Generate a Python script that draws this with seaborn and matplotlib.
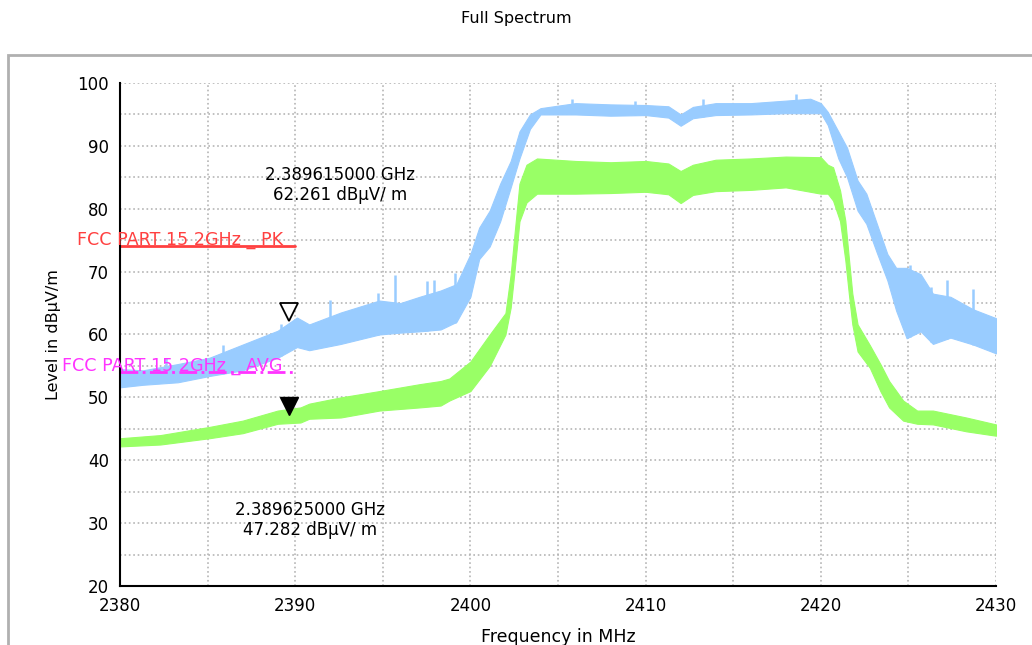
import numpy as np
import pandas as pd
import matplotlib
matplotlib.use("Agg")
import matplotlib.pyplot as plt
import matplotlib.transforms as mtransforms
from matplotlib.patches import Rectangle
import seaborn as sns

pk_freq = [2380, 2381.3, 2383.3, 2385.1, 2387, 2389, 2390.1, 2390.8, 2392.6, 2394.8,
           2396, 2397.1, 2398.3, 2399.2, 2400, 2400.5, 2401.1, 2401.7, 2402.3, 2402.8,
           2403.4, 2404, 2406, 2408, 2410, 2411.3, 2412, 2412.7, 2414, 2416,
           2418, 2419.4, 2420, 2420.4, 2421, 2421.5, 2422.1, 2422.6, 2423.2, 2423.8,
           2424.3, 2424.9, 2425.7, 2426.4, 2427.4, 2428.7, 2430]
pk_low = [51.6, 52.0, 52.4, 53.4, 54.3, 56.3, 58.0, 57.5, 58.5, 60.0,
          60.3, 60.5, 60.8, 62.0, 66.0, 72.0, 74.0, 78.0, 83.4, 88.0,
          92.7, 95.0, 95.0, 94.8, 94.9, 94.5, 93.2, 94.4, 94.9, 95.0,
          95.2, 95.2, 95.2, 93.3, 88.0, 85.0, 79.7, 77.6, 73.0, 68.6,
          63.8, 59.4, 60.5, 58.5, 59.5, 58.4, 57.0]
pk_high = [54.5, 54.3, 55.3, 56.3, 58.4, 60.6, 62.7, 61.6, 63.5, 65.4,
           65.0, 66.0, 67.0, 68.0, 72.8, 77.0, 79.7, 84.0, 87.6, 92.3,
           95.0, 96.0, 96.8, 96.6, 96.5, 96.3, 95.0, 96.2, 96.8, 96.8,
           97.2, 97.5, 96.8, 95.4, 92.3, 89.7, 84.5, 82.4, 77.6, 72.8,
           70.6, 70.6, 69.6, 66.5, 66.0, 64.0, 62.6]
# single spikes poking out of the peak band
pk_spike_freq = [2382.6, 2385.9, 2389.2, 2392.0, 2394.7, 2395.7, 2397.5, 2397.9, 2399.1,
                 2405.8, 2409.4, 2413.3, 2418.6, 2425.1, 2426.3, 2427.2, 2428.7]
pk_spike_top = [56.2, 58.4, 61.6, 65.5, 66.6, 69.5, 68.5, 68.7, 69.8,
                97.5, 97.2, 97.4, 98.2, 71.0, 67.5, 68.7, 67.3]

# Average trace (green)
avg_freq = [2380, 2382.3, 2385.1, 2387, 2389, 2390.3, 2390.8, 2392.6, 2394.8, 2397.1,
            2398.3, 2398.8, 2400, 2401.1, 2402, 2402.3, 2402.5, 2402.8, 2403.2, 2403.8,
            2406, 2408, 2410, 2411.3, 2412, 2412.7, 2414, 2416, 2418, 2420,
            2420.4, 2420.7, 2421.1, 2421.4, 2421.6, 2421.8, 2422.1, 2422.8, 2423.4, 2423.9,
            2424.7, 2425.5, 2426.4, 2428.3, 2430]
avg_low = [42.2, 42.5, 43.5, 44.3, 45.8, 46.0, 46.6, 46.8, 47.9, 48.4,
           48.7, 49.5, 51.0, 55.0, 60.0, 64.3, 69.6, 78.0, 81.0, 82.4,
           82.4, 82.5, 82.7, 82.3, 80.9, 82.2, 82.8, 83.0, 83.4, 82.4,
           82.4, 81.3, 78.0, 71.8, 66.5, 61.6, 57.3, 54.7, 51.0, 48.4,
           46.3, 45.8, 45.7, 44.6, 43.9]
avg_high = [43.5, 44.0, 45.3, 46.3, 47.9, 48.4, 49.0, 50.0, 51.0, 52.1,
            52.6, 53.0, 55.7, 60.0, 63.4, 69.6, 75.5, 84.0, 87.0, 88.0,
            87.6, 87.4, 87.6, 87.2, 86.0, 87.0, 87.8, 88.0, 88.3, 88.2,
            87.0, 86.6, 82.9, 78.1, 72.2, 66.5, 61.6, 58.3, 55.3, 52.6,
            49.5, 47.9, 47.9, 46.8, 45.7]

# limit lines
limit_span = [2380, 2390]
limit_pk = 74
limit_avg = 54

# markers
mk_freq = 2389.62
mk_pk = 62.261
mk_avg = 47.282

blue = "#99ccff"
green = "#99ff66"

sns.set_style("white")
plt.rcParams["font.family"] = ["DejaVu Sans"]
plt.rcParams["text.color"] = "black"
plt.rcParams["axes.labelcolor"] = "black"

fig = plt.figure(figsize=(10.32, 6.45), dpi=100)
ax = fig.add_axes([0.1163, 0.0915, 0.8488, 0.7798])


def band(freq, low, high, color):
    df = pd.DataFrame({"freq": freq + freq, "level": low + high})
    sns.lineplot(data=df, x="freq", y="level", estimator="mean",
                 errorbar=("pi", 100), color=color, linewidth=0,
                 err_kws={"alpha": 1, "linewidth": 0.8, "edgecolor": color}, ax=ax)


band(pk_freq, pk_low, pk_high, blue)
spike_base = np.interp(pk_spike_freq, pk_freq, pk_low)
ax.vlines(pk_spike_freq, spike_base, pk_spike_top, color=blue, linewidth=1.8)
band(avg_freq, avg_low, avg_high, green)

# limit lines
ax.plot(limit_span, [limit_pk] * 2, color="#ff4040", linewidth=2)
ax.plot(limit_span, [limit_avg] * 2, color="#ff33ff", linewidth=2, linestyle="-.")
ax.text(2377.55, limit_pk + 0.3, "FCC PART 15 2GHz _ PK", color="#ff4040",
        fontsize=12.6, ha="left", va="baseline", clip_on=False)
ax.text(2376.7, limit_avg + 0.3, "FCC PART 15 2GHz _ AVG", color="#ff33ff",
        fontsize=12.6, ha="left", va="baseline", clip_on=False)

# markers: triangle sits just above the reading
up = mtransforms.offset_copy(ax.transData, fig=fig, x=0, y=8, units="dots")
ax.plot([mk_freq], [mk_pk], marker="v", markersize=13, markerfacecolor="white",
        markeredgecolor="black", markeredgewidth=1.3, transform=up)
ax.plot([mk_freq], [mk_avg], marker="v", markersize=13, color="black", transform=up)
ax.text(2392.55, 83.8, "2.389615000 GHz\n62.261 dBµV/ m", fontsize=12,
        ha="center", va="center", linespacing=1.1)
ax.text(2390.85, 30.5, "2.389625000 GHz\n47.282 dBµV/ m", fontsize=12,
        ha="center", va="center", linespacing=1.1)

ax.set_xlim(2380, 2430)
ax.set_ylim(20, 100)
ax.set_xticks(np.arange(2380, 2431, 10))
ax.set_xticks(np.arange(2385, 2430, 10), minor=True)
ax.set_yticks(np.arange(20, 101, 10))
ax.set_yticks(np.arange(25, 100, 10), minor=True)
ax.tick_params(which="both", direction="inout", length=9, width=1.3,
               labelsize=12, colors="black")
ax.grid(which="both", linestyle=":", color="#b5b5b5", linewidth=1.2)
for side in ["top", "right"]:
    ax.spines[side].set_visible(False)
for side in ["left", "bottom"]:
    ax.spines[side].set_color("black")
    ax.spines[side].set_linewidth(1.5)

ax.set_xlabel("Frequency in MHz", fontsize=12.5, labelpad=9)
ax.set_ylabel("Level in dBµV/m", fontsize=11.5, labelpad=12)
fig.text(0.5, 1 - 18 / 645, "Full Spectrum", fontsize=11.5, ha="center", va="center")

# outer frame of the report page
fig.patches.append(Rectangle((8 / 1032, -0.02), 1.0, 1 - 55 / 645 + 0.02,
                             transform=fig.transFigure, fill=False,
                             edgecolor="#b0b0b0", linewidth=2))

fig.savefig("out.png", dpi=100)
